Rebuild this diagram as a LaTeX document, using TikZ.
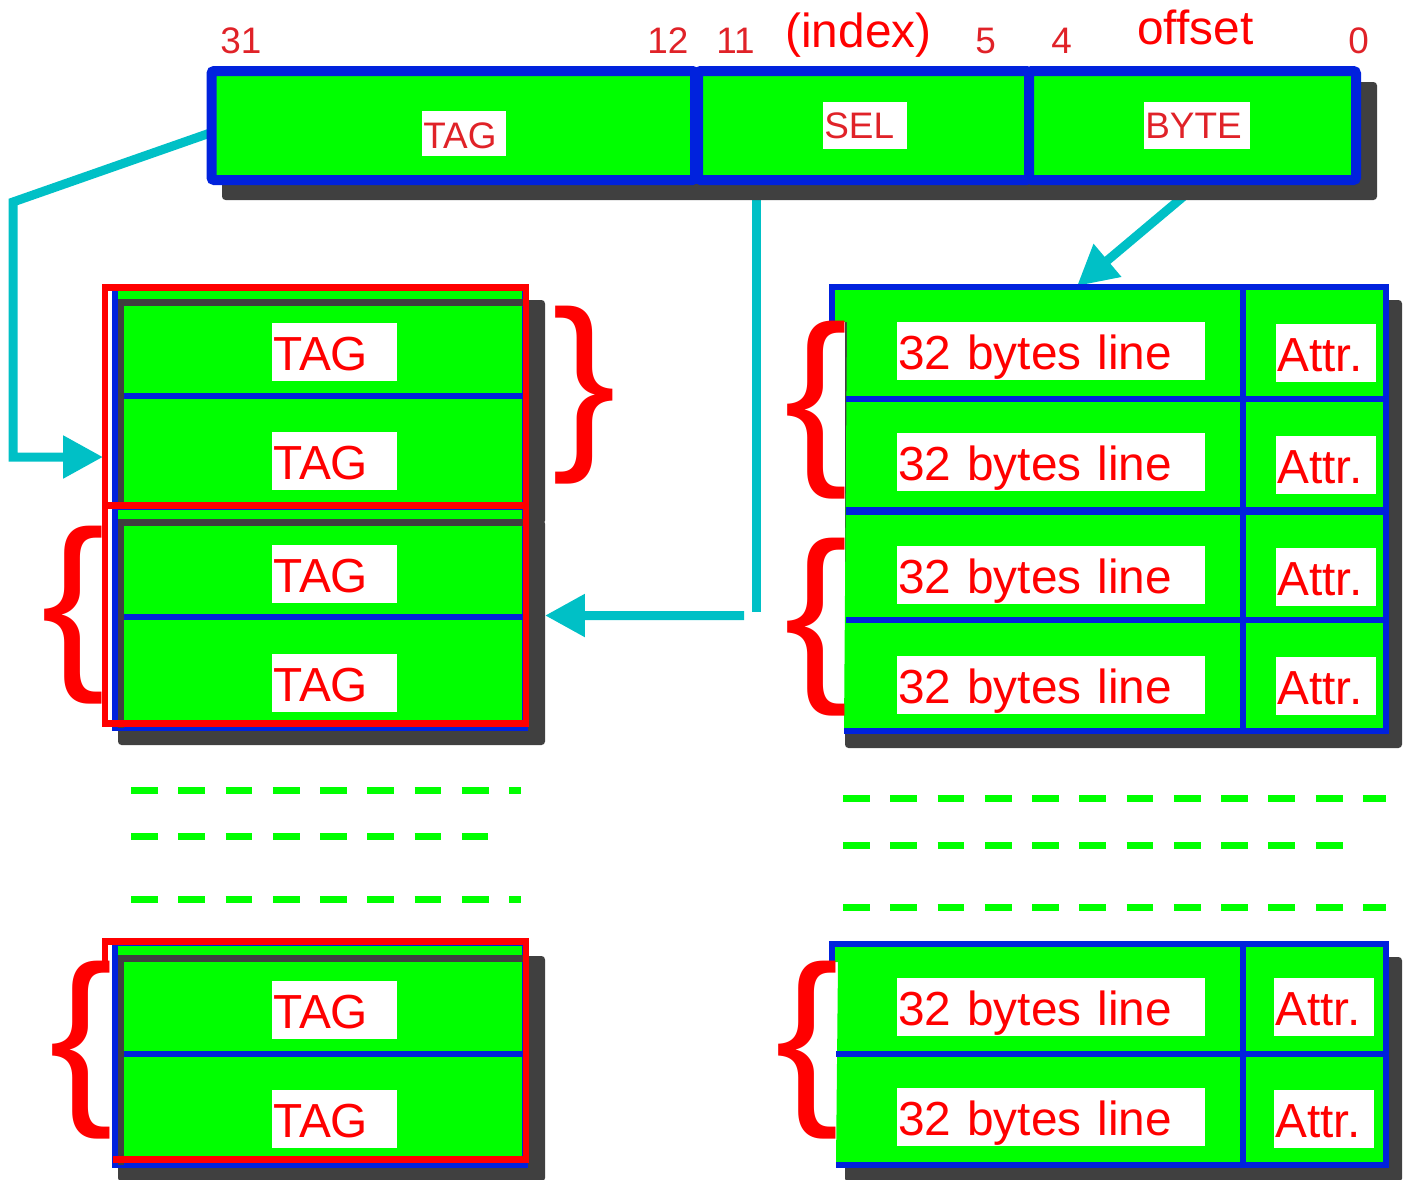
\documentclass[tikz,border=0pt]{standalone}
\usepackage{fontspec}
\setmainfont{Liberation Sans}
\usetikzlibrary{arrows.meta,fit,calc,backgrounds}
\newlength{\pxu}\setlength{\pxu}{0.02cm}
\definecolor{cgreen}{RGB}{0,255,0}
\definecolor{cblue}{RGB}{0,34,221}
\definecolor{cred}{RGB}{255,0,0}
\definecolor{cnum}{RGB}{224,34,40}
\definecolor{ccyan}{RGB}{0,192,198}
\definecolor{cshade}{RGB}{64,64,64}
\newcommand{\fbig}{\fontsize{27.2pt}{30pt}\selectfont}
\newcommand{\fmid}{\fontsize{21pt}{24pt}\selectfont}
\newcommand{\fbrace}{\fontsize{108.7pt}{110pt}\selectfont}

\begin{document}
\begin{tikzpicture}[x=0.02cm,y=-0.02cm,
  field/.style={draw=cblue, fill=cgreen, line width=10\pxu, inner sep=0pt, outer sep=0pt, rounded corners=1.5pt},
  setbox/.style={draw=cblue, fill=cgreen, line width=6\pxu, inner sep=0pt, outer sep=0pt},
  shade/.style={fill=cshade, rounded corners=2pt},
  rowline/.style={draw=cblue, line width=6\pxu},
  redframe/.style={draw=cred, line width=6.5\pxu},
  lbl/.style={fill=white, inner xsep=1\pxu, inner ysep=0pt, align=left,
    anchor=north west, text=cred, font=\fbig, text height=47\pxu, text depth=11\pxu},
  barlbl/.style={fill=white, inner xsep=1\pxu, inner ysep=0pt, align=left,
    anchor=north west, text=cnum, font=\fmid},
  bitno/.style={anchor=base west, inner sep=0pt, text=cnum, font=\fmid},
  fieldname/.style={anchor=base west, inner sep=0pt, text=cred, font=\fbig},
  brace/.style={inner sep=0pt, text=cred, font=\fbrace},
  link/.style={draw=ccyan, line width=9\pxu},
  linkarrow/.style={link, -{Triangle[length=22.7pt,width=23.2pt]}},
  gap/.style={draw=cgreen, line width=7\pxu, dash pattern=on 15.3pt off 11.6pt}]

\useasboundingbox (0,0) rectangle (1410,1180);

% ---------------- address register ----------------
\fill[shade] (222,82) rectangle (1377,200);
\node[field, fit={(211.5,71) (695,180)}] (fTag) {};
\node[field, fit={(698,71) (1029,180)}] (fSel) {};
\node[field, fit={(1029,71) (1356,180)}] (fByte) {};
\node[barlbl, text width=82\pxu, text height=37\pxu, text depth=8\pxu] (lTag) at (422,111) {TAG};
\node[barlbl, text width=82\pxu, text height=36\pxu, text depth=11\pxu] (lSel) at (823,102) {SEL};
\node[barlbl, text width=104\pxu, text height=36\pxu, text depth=11\pxu] (lByte) at (1144,102) {BYTE};

\node[bitno] (b31) at (220,53) {31};
\node[bitno] (b12) at (647,53) {12};
\node[bitno] (b11) at (716,53) {11};
\node[bitno] (b5)  at (975,53) {5};
\node[bitno] (b4)  at (1051,53) {4};
\node[bitno] (b0)  at (1348,53) {0};
\node[fieldname] (nIndex)  at (785,47) {(index)};
\node[fieldname] (nOffset) at (1137,44) {offset};

% ---------------- tag directory ----------------
\foreach \n/\ya/\yb/\ym/\ta/\tb in {A/287/507/395.5/323/432, B/507/728/617/545/654, C/943/1164.5/1054/981/1090}{
  \fill[shade] (118,\ya+13) rectangle (545,\yb+17);
  \node[setbox, fit={(115,\ya) (525,\yb)}] (set\n) {};
  \draw[cshade, line width=6.5\pxu] (121,\yb) -- (121,\ya+15.5) -- (525,\ya+15.5);
  \draw[rowline] (124,\ym) -- (525,\ym);
  \node[lbl, text width=123\pxu] (tag\n1) at (272,\ta) {TAG};
  \node[lbl, text width=123\pxu] (tag\n2) at (272,\tb) {TAG};
}
\draw[redframe] (105,287.5) rectangle (526,505.5);
\draw[redframe] (105,505.5) rectangle (526,723.5);
\draw[redframe] (113,1159.5) -- (526,1159.5) -- (526,941.5) -- (105,941.5) -- (105,962);

% ---------------- data array ----------------
\fill[shade] (845,300) rectangle (1402,748);
\fill[cgreen] (832,287) -- (1386,287) -- (1386,731) -- (844,731) -- (847,322) -- (832,322) -- cycle;
\draw[rowline] (832,322) -- (832,287) -- (1386,287) -- (1386,731) -- (844,731);
\draw[rowline] (846,398.5) -- (1386,398.5);
\draw[rowline, line width=8\pxu] (846,511) -- (1386,511);
\draw[rowline] (846,620) -- (1386,620);
\draw[rowline] (1243,287) -- (1243,731);
\foreach \k/\t/\u in {1/322/324, 2/433/436, 3/546/548, 4/656/657}{
  \node[lbl, text width=306\pxu] (line\k) at (897,\t) {32 bytes line};
  \node[lbl, text width=98\pxu] (attr\k) at (1276,\u) {Attr.};
}

\fill[shade] (845,957) rectangle (1402,1182);
\fill[cgreen] (832,944) -- (1386,944) -- (1386,1164.5) -- (836,1164.5) -- (838,962) -- (832,962) -- cycle;
\draw[rowline] (832,962) -- (832,944) -- (1386,944) -- (1386,1164.5) -- (836,1164.5);
\draw[rowline] (836,1054) -- (1386,1054);
\draw[rowline] (1243,944) -- (1243,1164.5);
\node[lbl, text width=306\pxu] (line5) at (897,978) {32 bytes line};
\node[lbl, text width=306\pxu] (line6) at (897,1088) {32 bytes line};
\node[lbl, text width=98\pxu] (attr5) at (1274,978) {Attr.};
\node[lbl, text width=98\pxu] (attr6) at (1274,1090) {Attr.};

% ---------------- braces ----------------
\node[brace] (brA) at (584.5,395) {\}};
\node[brace] (brB) at (73,615) {\{};
\node[brace] (brC) at (81,1050) {\{};
\node[brace] (brD) at (816,410) {\{};
\node[brace] (brE) at (816,627.5) {\{};
\node[brace] (brF) at (807,1050) {\{};

% ---------------- elided rows ----------------
\draw[gap] (131,790) -- (521,790);
\draw[gap] (131,836) -- (488,836);
\draw[gap] (131,899) -- (521,899);
\draw[gap] (843,798) -- (1386,798);
\draw[gap] (843,845) -- (1347,845);
\draw[gap] (843,907) -- (1386,907);

% ---------------- address paths ----------------
\begin{pgfonlayer}{background}
  \coordinate (bendA) at (13,202);
  \coordinate (selEnd) at (744,615.5);
  \coordinate (blkTop) at (1077,286);
  \draw[linkarrow] ($(fTag.west)+(0,7)$) -- (bendA) |- ($(setA.west)+(-12,60)$);
  \draw[link] ($(fSel.south west)+(58.5,0)$) -- ++(0,432);
  \draw[linkarrow] (selEnd) -- ($(setB.east)+(20,-2)$);
  \draw[linkarrow] ($(fByte.south)+(10.5,0)$) -- (blkTop);
\end{pgfonlayer}
\end{tikzpicture}
\end{document}
